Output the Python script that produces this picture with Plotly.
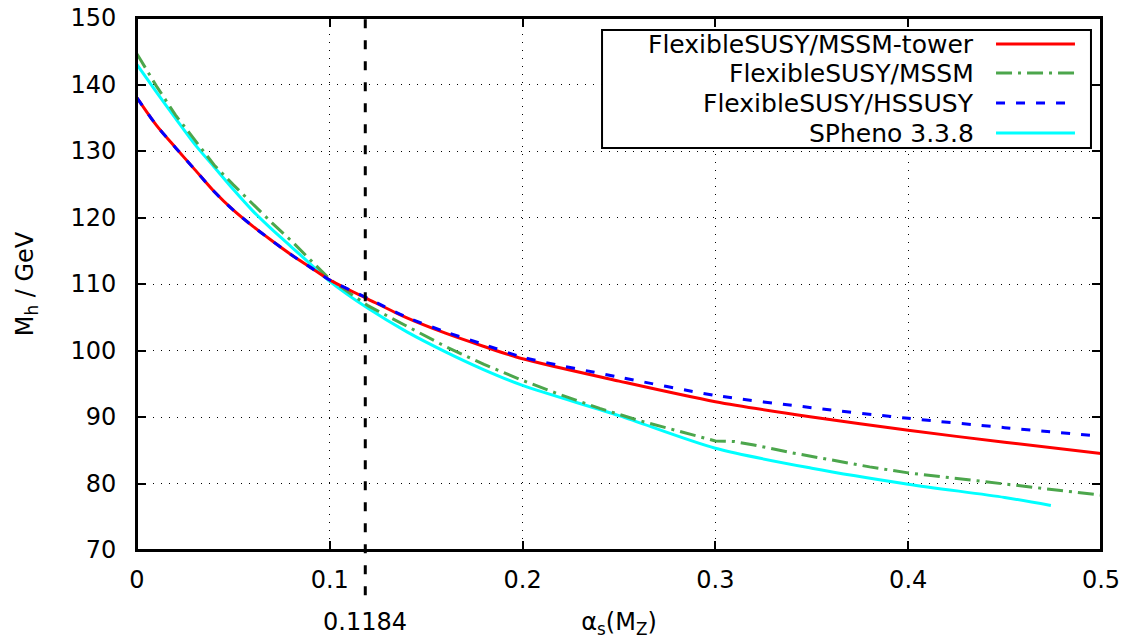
import plotly.graph_objects as go

# ---------------- data ----------------
alpha_s_ref = 0.1184

x_tower = [0, .01, .02, .03, .04, .05, .06, .07, .08, .09, .10, .12, .14, .16, .18, .20, .25, .30, .35, .40, .45, .50]
y_tower = [138.0, 133.9, 130.5, 127.2, 123.9, 121.1, 118.7, 116.5, 114.4, 112.5, 110.6, 107.7, 104.9, 102.6, 100.6, 98.75, 95.4, 92.3, 90.0, 88.0, 86.2, 84.5]

x_hssusy = [0, .01, .02, .03, .04, .05, .06, .07, .08, .09, .10, .12, .14, .16, .18, .20, .25, .30, .35, .40, .45, .50]
y_hssusy = [138.0, 133.9, 130.5, 127.2, 123.9, 121.1, 118.7, 116.5, 114.4, 112.5, 110.6, 107.8, 105.0, 102.8, 100.9, 99.0, 96.0, 93.25, 91.4, 89.8, 88.4, 87.1]

x_mssm = [0, .01, .02, .03, .04, .05, .06, .07, .08, .09, .10, .12, .14, .16, .18, .20, .22, .24, .26, .28, .29, .30, .31, .32, .34, .36, .38, .40, .45, .50]
y_mssm = [144.6, 139.8, 135.4, 131.6, 127.9, 124.9, 122.0, 119.2, 116.5, 113.6, 110.7, 106.7, 103.7, 100.6, 97.9, 95.5, 93.3, 91.3, 89.5, 88.0, 87.2, 86.4, 86.3, 85.8, 84.6, 83.5, 82.5, 81.6, 79.9, 78.25]

x_spheno = [0, .01, .02, .03, .04, .05, .06, .07, .08, .09, .10, .12, .14, .16, .18, .20, .25, .30, .35, .40, .45, .474]
y_spheno = [143.0, 138.9, 134.9, 131.0, 127.6, 124.2, 121.0, 118.2, 115.6, 113.0, 110.4, 106.3, 102.8, 99.8, 97.1, 94.75, 90.2, 85.3, 82.3, 79.9, 77.9, 76.7]

names = ["FlexibleSUSY/MSSM-tower", "FlexibleSUSY/MSSM", "FlexibleSUSY/HSSUSY", "SPheno 3.3.8"]
colors = ["#ff0000", "#4ca64c", "#0000ff", "#00ffff"]
dashes = ["solid", "16px,6px,3px,6px", "9px,11px", "solid"]

x_ticks = [0, 0.1, 0.2, 0.3, 0.4, 0.5]
y_ticks = [70, 80, 90, 100, 110, 120, 130, 140, 150]

FONT = "DejaVu Sans"
FS = 24
FS_LEG = 25

fig = go.Figure()
series = [(x_tower, y_tower, "spline"), (x_mssm, y_mssm, "linear"),
          (x_hssusy, y_hssusy, "spline"), (x_spheno, y_spheno, "spline")]
order = [3, 1, 0, 2]  # draw cyan, green, red, blue (blue on top)
for i in order:
    xs, ys, shp = series[i]
    fig.add_trace(go.Scatter(
        x=xs, y=ys, mode="lines", name=names[i], showlegend=False,
        line=dict(color=colors[i], width=3, dash=dashes[i], shape=shp, smoothing=0.8),
    ))

# vertical reference line at alpha_s(MZ)
fig.add_shape(type="line", xref="x", yref="paper", x0=alpha_s_ref, x1=alpha_s_ref,
              y0=-0.085, y1=1, line=dict(color="black", width=3, dash="9px,12px"), layer="above")
fig.add_annotation(x=alpha_s_ref, xref="x", y=-0.135, yref="paper", text=str(alpha_s_ref),
                   showarrow=False, font=dict(family=FONT, size=FS, color="black"),
                   xanchor="center", yanchor="middle")

# plot frame (gnuplot border)
fig.add_shape(type="rect", xref="paper", yref="paper", x0=0, x1=1, y0=0, y1=1,
              line=dict(color="black", width=2), layer="above")

# custom legend (text right-aligned, sample line on the right, as in gnuplot)
fig.add_shape(type="rect", xref="paper", yref="paper", x0=0.4824, x1=0.9896, y0=0.7556, y1=0.9774,
              line=dict(color="black", width=2), fillcolor="white", layer="above")
row_y = [0.9511, 0.8966, 0.8402, 0.7838]
for k in range(4):
    fig.add_annotation(x=0.8703, xref="paper", y=row_y[k], yref="paper", text=names[k],
                       showarrow=False, xanchor="right", yanchor="middle",
                       font=dict(family=FONT, size=FS_LEG, color="black"))
    fig.add_shape(type="line", xref="paper", yref="paper", x0=0.8911, x1=0.9730,
                  y0=row_y[k], y1=row_y[k], layer="above",
                  line=dict(color=colors[k], width=3, dash=dashes[k]))

axis_common = dict(
    showline=True, linecolor="black", linewidth=2, mirror="ticks",
    ticks="inside", ticklen=9, tickwidth=1.5, tickcolor="black",
    showgrid=True, gridcolor="black", gridwidth=1, griddash="1px,7px",
    zeroline=False, tickfont=dict(family=FONT, size=FS, color="black"),
    automargin=False, ticklabeloverflow="allow",
)

fig.update_layout(
    width=1124, height=639,
    margin=dict(l=137, r=23, t=18, b=89),
    paper_bgcolor="white", plot_bgcolor="white",
    xaxis=dict(range=[0, 0.5], tickvals=x_ticks, ticktext=[f"{v:g}" for v in x_ticks],
               ticklabelstandoff=7,
               title=dict(text="α<sub>s</sub>(M<sub>Z</sub>)", font=dict(family=FONT, size=FS, color="black"),
                          standoff=31),
               **axis_common),
    yaxis=dict(range=[70, 150], tickvals=y_ticks, ticklabelstandoff=14,
               title=dict(text="M<sub>h</sub> / GeV", font=dict(family=FONT, size=FS, color="black"),
                          standoff=30),
               **axis_common),
    showlegend=False,
)

# remove the default 8px page margin so the 1124x639 figure fills the window exactly
fig.write_html("out.html", config={"displayModeBar": False},
               post_script="document.body.style.margin='0';document.body.style.overflow='hidden';")
